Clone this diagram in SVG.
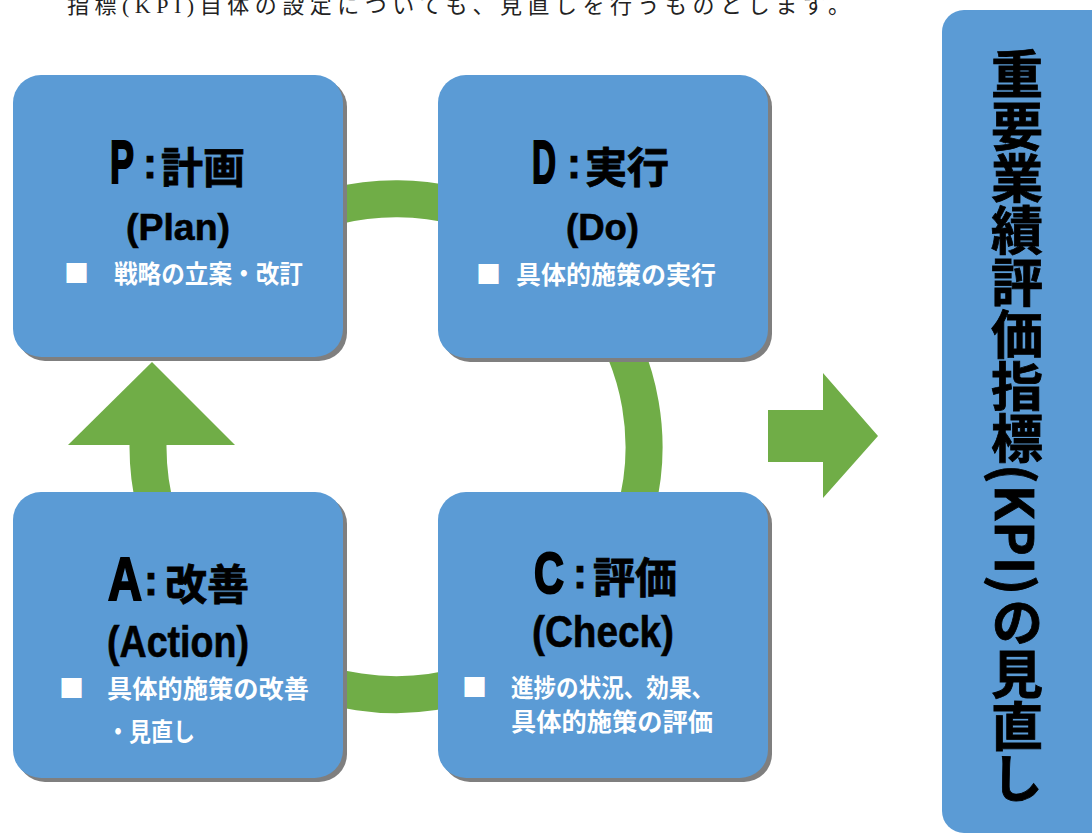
<svg xmlns="http://www.w3.org/2000/svg" width="1092" height="834" viewBox="0 0 1092 834">
<style>
.box{fill:#5B9BD5}
.shadow{fill:#7F7F7F}
.cjk{font-family:"Noto Sans CJK JP","Noto Sans CJK SC",sans-serif;font-weight:700}
.lat{font-family:"Liberation Sans",Arial,sans-serif;font-weight:700}
.ttl{fill:#000;stroke:#000;stroke-width:0.8}
.big{stroke-width:2.2}
.sub{fill:#000;stroke:#000;stroke-width:0.6}
.bul{fill:#fff;font-size:25px}
.green{fill:#70AD47}
</style>
<rect width="1092" height="834" fill="#fff"/>
<text x="67" y="13" font-family="'Liberation Serif','Noto Sans CJK JP',serif" font-size="22" fill="#222" textLength="783" lengthAdjust="spacing">指標(KPI)自体の設定についても、見直しを行うものとします。</text>

<g id="connectors">
  <path d="M148.1,440 A248,248 0 1 0 196,300" fill="none" stroke="#70AD47" stroke-width="37"/>
  <polygon class="green" points="68,445 235,445 152,362"/>
  <polygon class="green" points="768,410 823,410 823,373 878,436 823,498 823,462 768,462"/>
</g>

<g id="node-plan">
  <rect class="shadow" x="17" y="79" width="330" height="282" rx="28"/>
  <rect class="box" x="13" y="75" width="330" height="282" rx="28"/>
  <text class="ttl" y="183"><tspan class="lat big" x="110" font-size="61" textLength="24" lengthAdjust="spacingAndGlyphs">P</tspan><tspan class="lat" x="143" y="178" font-size="42">:</tspan><tspan class="cjk" x="161" y="183" font-size="42">計画</tspan></text>
  <text class="lat sub" x="126" y="240" font-size="37" textLength="104" lengthAdjust="spacingAndGlyphs">(Plan)</text>
  <text class="cjk bul" y="283"><tspan x="64">■</tspan><tspan x="114" textLength="189" lengthAdjust="spacingAndGlyphs">戦略の立案・改訂</tspan></text>
</g>

<g id="node-do">
  <rect class="shadow" x="442" y="79" width="330" height="283" rx="28"/>
  <rect class="box" x="438" y="75" width="330" height="283" rx="28"/>
  <text class="ttl" y="183"><tspan class="lat big" x="532" font-size="61" textLength="24" lengthAdjust="spacingAndGlyphs">D</tspan><tspan class="lat" x="567" y="178" font-size="42">:</tspan><tspan class="cjk" x="585" y="183" font-size="42">実行</tspan></text>
  <text class="lat sub" x="566" y="240" font-size="37" textLength="73" lengthAdjust="spacingAndGlyphs">(Do)</text>
  <text class="cjk bul" y="284"><tspan x="476">■</tspan><tspan x="516" textLength="200" lengthAdjust="spacingAndGlyphs">具体的施策の実行</tspan></text>
</g>

<g id="node-action">
  <rect class="shadow" x="17" y="496" width="330" height="286" rx="28"/>
  <rect class="box" x="13" y="492" width="330" height="286" rx="28"/>
  <text class="ttl" y="600"><tspan class="lat big" x="108" font-size="61" textLength="34" lengthAdjust="spacingAndGlyphs">A</tspan><tspan class="lat" x="144" y="595" font-size="42">:</tspan><tspan class="cjk" x="165" y="600" font-size="42">改善</tspan></text>
  <text class="lat sub" x="107" y="657" font-size="44" textLength="142" lengthAdjust="spacingAndGlyphs">(Action)</text>
  <text class="cjk bul" y="698"><tspan x="59">■</tspan><tspan x="107" textLength="202" lengthAdjust="spacingAndGlyphs">具体的施策の改善</tspan></text>
  <text class="cjk bul" x="107" y="741" textLength="88" lengthAdjust="spacingAndGlyphs">・見直し</text>
</g>

<g id="node-check">
  <rect class="shadow" x="442" y="496" width="330" height="286" rx="28"/>
  <rect class="box" x="438" y="492" width="330" height="286" rx="28"/>
  <text class="ttl" y="593"><tspan class="lat big" x="534" font-size="58" textLength="30" lengthAdjust="spacingAndGlyphs">C</tspan><tspan class="lat" x="573" y="588" font-size="42">:</tspan><tspan class="cjk" x="593" y="593" font-size="42">評価</tspan></text>
  <text class="lat sub" x="532" y="647" font-size="44" textLength="142" lengthAdjust="spacingAndGlyphs">(Check)</text>
  <text class="cjk bul" y="697"><tspan x="462">■</tspan><tspan x="511" textLength="203" lengthAdjust="spacingAndGlyphs">進捗の状況、効果、</tspan></text>
  <text class="cjk bul" x="511" y="731" textLength="202" lengthAdjust="spacingAndGlyphs">具体的施策の評価</text>
</g>

<g id="node-kpi">
  <rect class="box" x="942" y="10" width="170" height="823" rx="22"/>
  <text class="cjk ttl" x="1017" y="48" font-size="52" style="writing-mode:vertical-rl" stroke-width="1.4">重要業績評価指標<tspan letter-spacing="1">(KPI)</tspan>の見直し</text>
</g>
</svg>
